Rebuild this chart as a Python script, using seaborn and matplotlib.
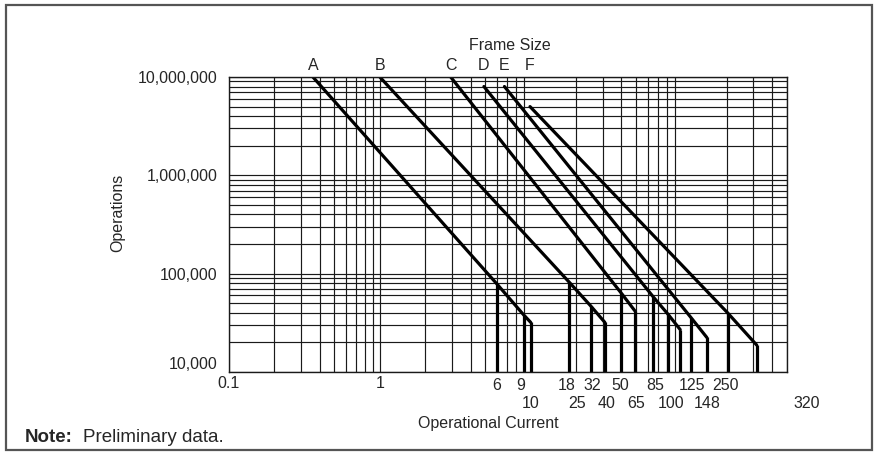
import matplotlib
matplotlib.use('Agg')
import matplotlib.pyplot as plt
import matplotlib.ticker as mticker
from matplotlib.patches import Rectangle
import pandas as pd
import seaborn as sns

# Frame sizes: where each line starts at the top of the chart
frames = ['A', 'B', 'C', 'D', 'E', 'F']
start_current = [0.36, 1.0, 2.95, 4.9, 6.7, 9.9]
start_ops = [10_000_000, 10_000_000, 10_000_000, 8_000_000, 8_000_000, 5_000_000]

# Rated currents of each frame and the operations where the drop line meets the curve
rated_current = [[6, 9, 10], [18, 25, 31], [40, 49], [65, 81, 98], [116, 147], [202, 315]]
rated_ops = [[78_000, 38_000, 32_000], [82_000, 47_000, 32_000], [63_000, 42_000],
             [58_000, 39_000, 27_000], [35_500, 22_500], [40_000, 18_800]]

# Current labels printed under the axis, in two rows
labels_top = ['6', '9', '18', '32', '50', '85', '125', '250']
labels_bottom = ['10', '25', '40', '65', '100', '148', '320']

# build a long table for seaborn
rows = []
for f, x0, y0, xs, ys in zip(frames, start_current, start_ops, rated_current, rated_ops):
    rows.append({'frame': f, 'current': x0, 'operations': y0})
    for x, y in zip(xs, ys):
        rows.append({'frame': f, 'current': x, 'operations': y})
df = pd.DataFrame(rows)

sns.set_style('white')
plt.rcParams['font.family'] = ['Liberation Sans', 'DejaVu Sans']
plt.rcParams['font.size'] = 11.5

fig = plt.figure(figsize=(8.78, 4.54), dpi=100)
ax = fig.add_axes([0.2608, 0.1806, 0.6355, 0.6498])

sns.lineplot(data=df, x='current', y='operations', hue='frame', units='frame',
             estimator=None, sort=False, palette=['black'] * len(frames),
             linewidth=2.3, legend=False, ax=ax)

# vertical drop lines at each rated current
for xs, ys in zip(rated_current, rated_ops):
    ax.vlines(xs, 10_000, ys, color='black', linewidth=2.3)

ax.set_xscale('log')
ax.set_yscale('log')
ax.set_xlim(0.1, 500)
ax.set_ylim(10_000, 10_000_000)

ax.grid(True, which='both', color='#1a1a1a', linewidth=0.85)
for s in ax.spines.values():
    s.set_color('#1a1a1a')
    s.set_linewidth(1.0)

ax.set_xticks([0.1, 1])
ax.set_xticklabels(['0.1', '1'])
ax.xaxis.set_minor_formatter(mticker.NullFormatter())
ax.set_yticks([1e4, 1e5, 1e6, 1e7])
ax.yaxis.set_major_formatter(mticker.FuncFormatter(lambda v, p: f'{int(round(v)):,}'))
ax.yaxis.set_minor_formatter(mticker.NullFormatter())
ax.tick_params(which='both', length=0)
ax.tick_params(axis='y', pad=8)
ax.tick_params(axis='x', pad=3)
ax.set_xlabel('')
ax.set_ylabel('')
# lowest y label sits above the axis line
ax.get_yticklabels()[0].set_verticalalignment('bottom')

# frame letters above each line start
for f, x0 in zip(frames, start_current):
    ax.text(x0, 1.014, f, transform=ax.get_xaxis_transform(), ha='center', va='bottom')
ax.text(0.503, 1.08, 'Frame Size', transform=ax.transAxes, ha='center', va='bottom')

# current labels in two rows
top_pos = [0.480, 0.522, 0.606, 0.651, 0.701, 0.763, 0.830, 0.889]
bottom_pos = [0.541, 0.624, 0.676, 0.729, 0.792, 0.857, 1.036]
for lab, xp in zip(labels_top, top_pos):
    ax.text(xp, -0.047, lab, transform=ax.transAxes, ha='center', va='center')
for lab, xp in zip(labels_bottom, bottom_pos):
    ax.text(xp, -0.107, lab, transform=ax.transAxes, ha='center', va='center')

ax.text(0.464, -0.173, 'Operational Current', transform=ax.transAxes, ha='center', va='center')
ax.text(-0.199, 0.539, 'Operations', transform=ax.transAxes, ha='center', va='center',
        rotation=90)

fig.text(0.028, 0.037, 'Note:', fontweight='bold', fontsize=13.5, ha='left', va='center')
fig.text(0.0945, 0.037, 'Preliminary data.', fontsize=13.5, ha='left', va='center')

# outer border
fig.patches.append(Rectangle((0.0068, 0.0088), 0.9864, 0.980, transform=fig.transFigure,
                             fill=False, edgecolor='#555555', linewidth=1.6))

fig.savefig('out.png', dpi=100)
